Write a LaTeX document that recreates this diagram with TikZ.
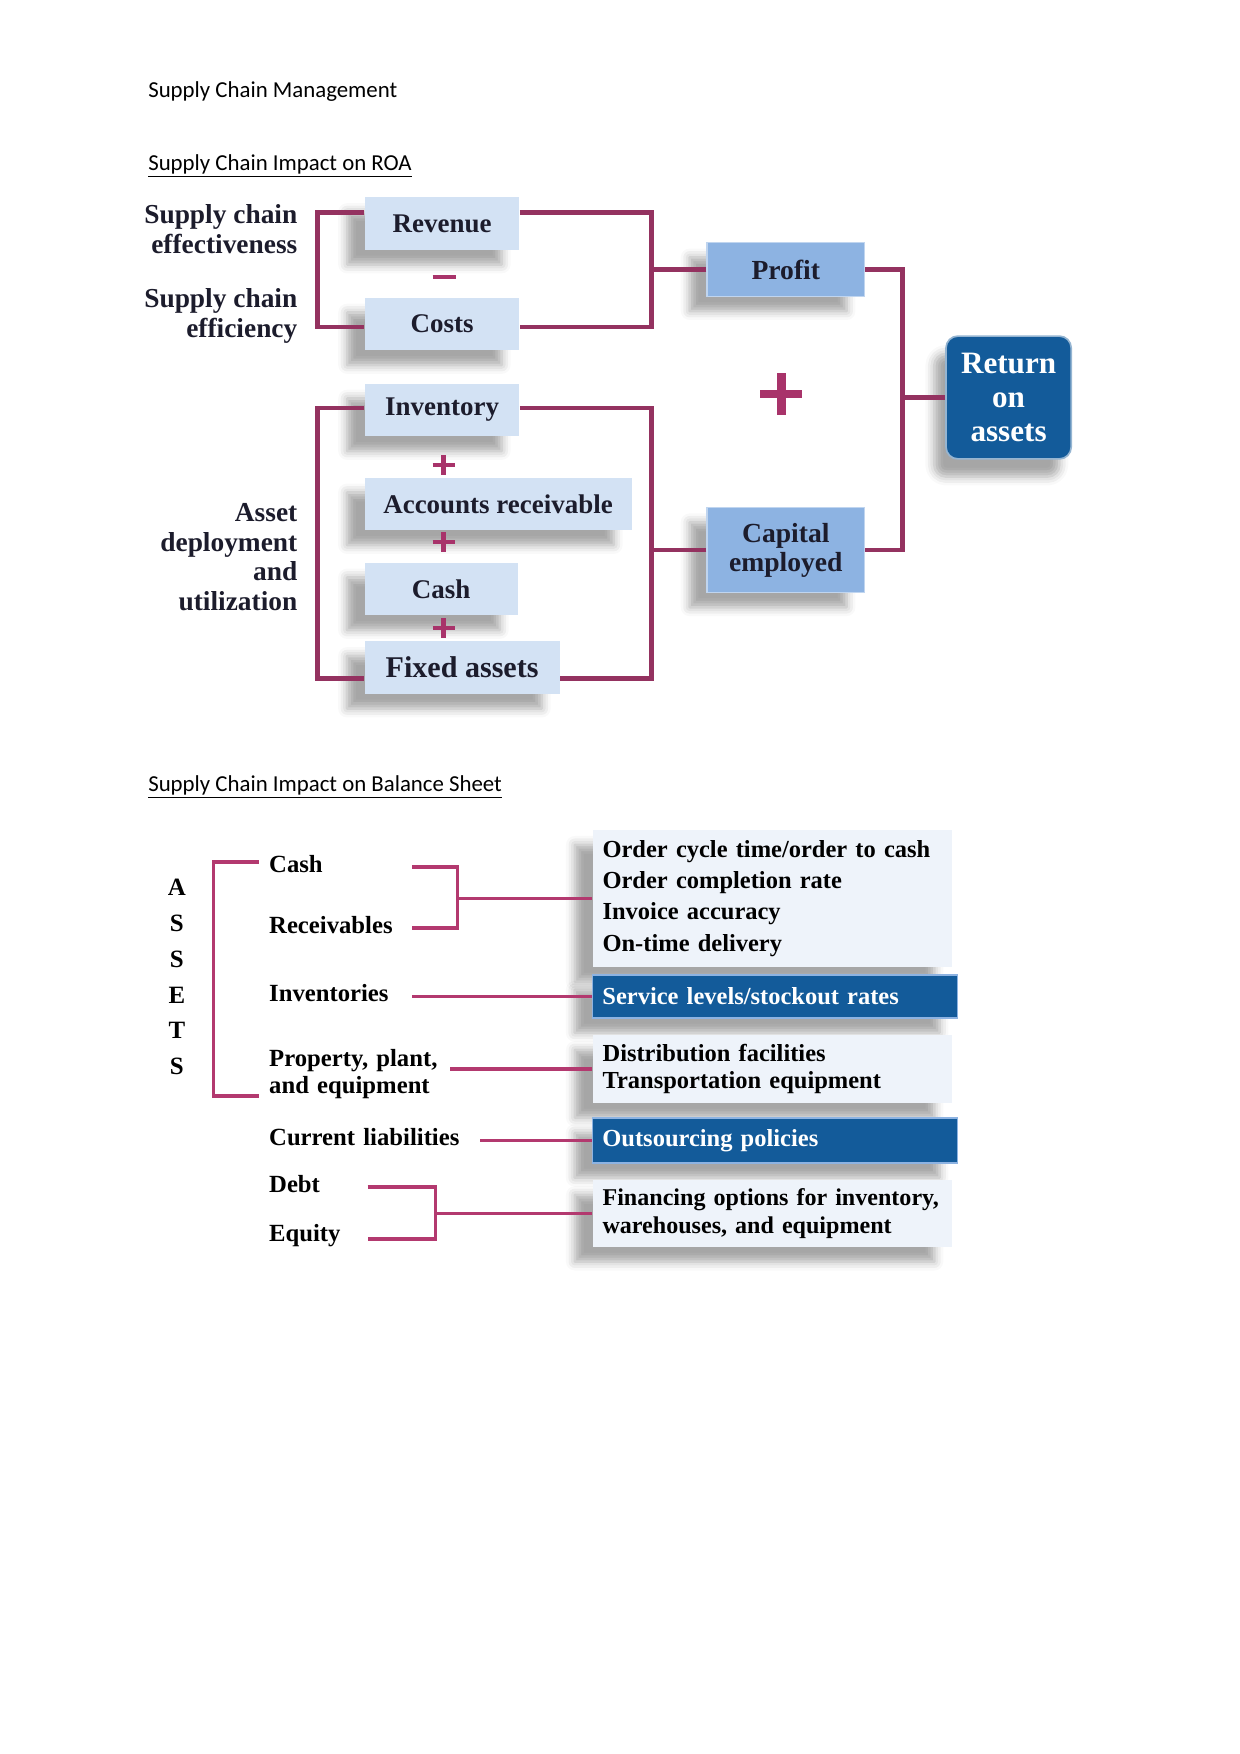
\documentclass[tikz,border=0pt]{standalone}
\usepackage{fontspec}
\setmainfont{Liberation Serif}
\newfontfamily\headfont{Carlito}
\usetikzlibrary{shadows.blur, calc}
\definecolor{scPlum}{HTML}{943260}
\definecolor{scPink}{HTML}{B3396F}
\definecolor{scSign}{HTML}{A8336A}
\definecolor{scLight}{HTML}{D3E2F4}
\definecolor{scMid}{HTML}{8DB3E2}
\definecolor{scDark}{HTML}{135B9A}
\definecolor{scPale}{HTML}{EEF3FA}
\definecolor{scInk}{HTML}{1C1C2C}

\begin{document}
\begin{tikzpicture}[x=0.01692cm, y=-0.01693cm,
      hd/.style={anchor=west, inner sep=0pt, font=\headfont\fontsize{11}{13}\selectfont},
      ll/.style={anchor=east, inner sep=0pt, align=right, text=scInk, font=\bfseries\fontsize{13.2}{14.3}\selectfont},
      lb/.style={fill=scLight, text=scInk, font=\bfseries\fontsize{13}{15}\selectfont, minimum height=0.89cm, inner sep=2pt,
        blur shadow={shadow xshift=-0.3cm, shadow yshift=-0.25cm, shadow blur radius=0.15cm, shadow opacity=35}},
      mb/.style={fill=scMid, draw=scMid!55!white, line width=0.8pt, text=scInk, align=center, minimum width=2.66cm,
        font=\bfseries\fontsize{13.3}{14}\selectfont,
        blur shadow={shadow xshift=-0.3cm, shadow yshift=-0.25cm, shadow blur radius=0.15cm, shadow opacity=35}},
      roabox/.style={fill=scDark, draw=scDark!45!white, line width=0.8pt, text=white, rounded corners=0.2cm, align=center,
        minimum width=2.12cm, minimum height=2.08cm, font=\bfseries\fontsize{15}{16.5}\selectfont,
        blur shadow={shadow xshift=-0.2cm, shadow yshift=-0.3cm, shadow blur radius=0.15cm, shadow opacity=35}},
      br/.style={draw=scPlum, line width=2.4pt},
      sign/.style={draw=scSign, line width=2.4pt},
      lt/.style={anchor=west, inner sep=0pt, align=left, text=black, font=\bfseries\fontsize{11.9}{13}\selectfont},
      pb/.style={fill=scPale, text=black, align=left, inner xsep=0.17cm, font=\bfseries\fontsize{11.8}{13.2}\selectfont,
        blur shadow={shadow xshift=-0.3cm, shadow yshift=-0.25cm, shadow blur radius=0.15cm, shadow opacity=35}},
      db/.style={fill=scDark, draw=scMid, line width=0.6pt, text=white, align=left, inner xsep=0.17cm, font=\bfseries\fontsize{11.8}{13.2}\selectfont,
        blur shadow={shadow xshift=-0.3cm, shadow yshift=-0.25cm, shadow blur radius=0.15cm, shadow opacity=35}},
      lbr/.style={draw=scPink, line width=1.5pt}]
    \useasboundingbox (0,0) rectangle (1241,1754);

    \node[hd] (title) at (148,92) {Supply Chain Management};
    \node[hd] (roahd) at (148,166) {\underline{Supply Chain Impact on ROA}};
    \node[hd] (bshd) at (148,787) {\underline{Supply Chain Impact on Balance Sheet}};

    % return on assets tree
    \node[ll] (effect) at (298,229) {Supply chain\\effectiveness};
    \node[ll] (effic) at (298,316) {Supply chain\\efficiency};
    \node[ll] (deploy) at (298,557) {Asset\\deployment\\and\\utilization};

    \node[lb, minimum width=2.62cm] (rev) at (442.5,223.5) {Revenue};
    \node[lb, minimum width=2.62cm] (cost) at (442.5,324) {Costs};
    \node[lb, minimum width=2.62cm] (inv) at (442.5,410) {Inventory};
    \node[lb, minimum width=4.52cm] (recv) at (498.5,504) {Accounts receivable};
    \node[lb, minimum width=2.59cm] (cash) at (441.5,589) {Cash};
    \node[lb, minimum width=3.30cm, font=\bfseries\fontsize{14.5}{16}\selectfont] (fixed) at (462.5,667.5) {Fixed assets};
    \node[mb, minimum height=0.91cm] (profit) at (786.5,269.5) {Profit};
    \node[mb, minimum height=1.44cm] (capital) at (786.5,550) {Capital\\employed};
    \node[roabox] (roa) at (1009.5,397.5) {Return\\on\\assets};

    \draw[br] ($(rev.west)+(0,-11)$) -- ++(-47,0) |- ($(cost.west)+(0,3)$);
    \draw[br] ($(rev.east)+(0,-11)$) -- ++(132,0) |- ($(cost.east)+(0,3)$);
    \draw[br] (profit.west) -- ++(-56,0);
    \draw[br] ($(inv.west)+(0,-2)$) -- ++(-47,0) |- ($(fixed.west)+(0,11)$);
    \draw[br] ($(inv.east)+(0,-2)$) -- ++(132,0) |- ($(fixed.east)+(0,11)$);
    \draw[br] (capital.west) -- ++(-56,0);
    \draw[br] (profit.east) -- ++(37,0) |- (capital.east);
    \draw[br] (roa.west) -- ++(-45,0);

    \draw[sign] (433,277) -- (456,277);
    \draw[sign] (444,465) +(-11,0) -- +(11,0) +(0,-10) -- +(0,10);
    \draw[sign] (444,542) +(-11,0) -- +(11,0) +(0,-10) -- +(0,10);
    \draw[sign] (444,628) +(-11,0) -- +(11,0) +(0,-10) -- +(0,10);
    \draw[sign, line width=4.3pt] (782,394) +(-21,0) -- +(21,0) +(0,-21) -- +(0,21);

    % balance sheet
    \node[align=center, inner sep=0pt, font=\bfseries\fontsize{12}{17.3}\selectfont] (assets) at (177,977) {A\\S\\S\\E\\T\\S};
    \node[lt, text width=2.42cm] (cashl) at (269,864) {Cash};
    \node[lt, text width=2.42cm] (rcvl) at (269,925) {Receivables};
    \node[lt, text width=2.42cm] (invl) at (269,993) {Inventories};
    \node[lt, text width=3.06cm] (ppel) at (269,1074) {Property, plant,\\and equipment};
    \node[lt, text width=3.57cm] (curl) at (269,1137) {Current liabilities};
    \node[lt, text width=1.66cm] (debtl) at (269,1184) {Debt};
    \node[lt, text width=1.66cm] (eqtl) at (269,1236) {Equity};

    \node[pb, text width=5.75cm, minimum height=2.32cm, font=\bfseries\fontsize{11.8}{15}\selectfont] (ord) at (773,898.5)
      {Order cycle time/order to cash\\Order completion rate\\Invoice accuracy\\On-time delivery};
    \node[db, text width=5.84cm, minimum height=0.73cm] (serv) at (775.5,996.5) {Service levels/stockout rates};
    \node[pb, text width=5.75cm, minimum height=1.15cm] (dist) at (773,1069) {Distribution facilities\\Transportation equipment};
    \node[db, text width=5.84cm, minimum height=0.76cm] (out) at (775.5,1140.5) {Outsourcing policies};
    \node[pb, text width=5.95cm, inner xsep=0.07cm, minimum height=1.13cm, font=\bfseries\fontsize{11.6}{13.2}\selectfont] (fin) at (773,1213.5)
      {\hspace*{0.1cm}Financing options for inventory,\\\hspace*{0.1cm}warehouses, and equipment};

    \coordinate (atop) at (259,862);
    \coordinate (abot) at (259,1096);
    \draw[lbr] (atop) -- ++(-45,0) |- (abot);
    \draw[lbr] ($(cashl.east)+(0,3)$) -- ++(45,0) coordinate (cj) |- ($(rcvl.east)+(0,3)$);
    \draw[lbr] (ord.west) -- (ord.west -| cj);
    \draw[lbr] (serv.west) -- (serv.west -| invl.east);
    \draw[lbr] (dist.west) -- (dist.west -| ppel.east);
    \draw[lbr] (out.west) -- (out.west -| curl.east);
    \draw[lbr] ($(debtl.east)+(0,3)$) -- ++(68,0) coordinate (dj) |- ($(eqtl.east)+(0,3)$);
    \draw[lbr] (fin.west) -- (fin.west -| dj);
  \end{tikzpicture}
\end{document}
